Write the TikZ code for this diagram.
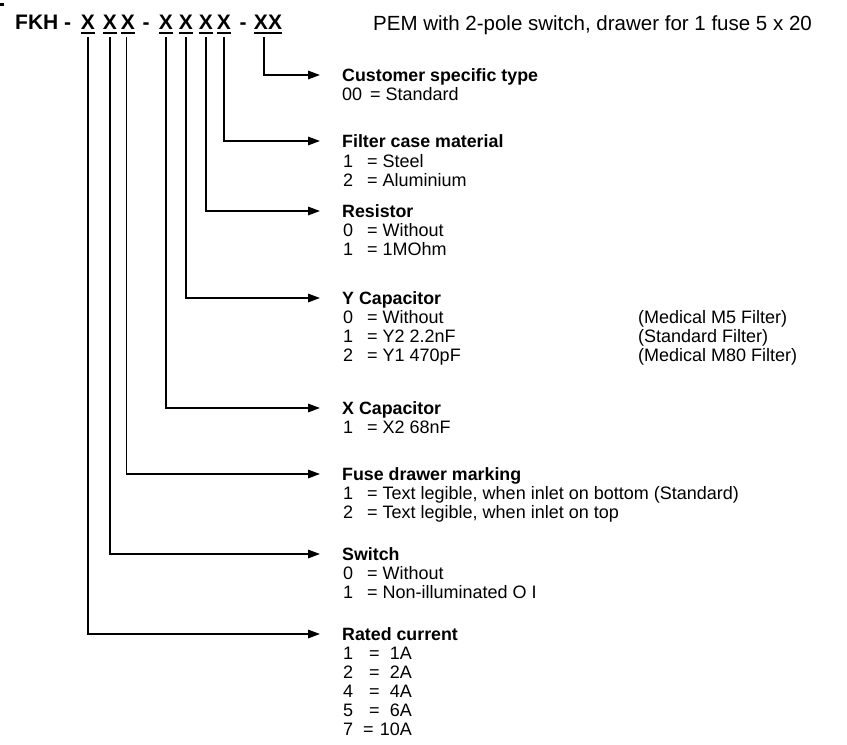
\documentclass[tikz,border=0pt]{standalone}
\usepackage{fontspec}
\setmainfont{Liberation Sans}
\usetikzlibrary{arrows.meta}
\begin{document}
\begin{tikzpicture}[x=1pt,y=-1pt,
 conn/.style={line width=1.5pt, -{Triangle[length=12pt,width=8.5pt]}},
 hx/.style={font=\fontsize{21}{21}\selectfont\bfseries, inner sep=0pt, anchor=base},
 hl/.style={font=\fontsize{21}{21}\selectfont\bfseries, inner sep=0pt, anchor=base west},
 ttl/.style={font=\fontsize{20.5}{21}\selectfont, inner sep=0pt, anchor=base west},
 hd/.style={font=\fontsize{17.8}{18}\selectfont\bfseries, inner sep=0pt, anchor=base west},
 tx/.style={font=\fontsize{18}{18}\selectfont, inner sep=0pt, anchor=base west},
 tr/.style={font=\fontsize{18}{18}\selectfont, inner sep=0pt, anchor=base east},
 ul/.style={line width=2pt}]
\useasboundingbox (0,0) rectangle (847,745);
\fill (0,3) rectangle (4,6);
% header
\node[hl] (fkh) at (15,29) {FKH -};
\node[hx] (x1) at (88,29) {X};
\node[hx] (x2) at (110,29) {X};
\node[hx] (x3) at (128,29) {X};
\node[hx] (d1) at (146,29) {-};
\node[hx] (x4) at (166,29) {X};
\node[hx] (x5) at (186,29) {X};
\node[hx] (x6) at (206,29) {X};
\node[hx] (x7) at (224,29) {X};
\node[hx] (d2) at (243,29) {-};
\node[hx] (xx) at (268,29) {XX};
\foreach \n in {x1,x2,x3,x4,x5,x6,x7,xx}
  \draw[ul] ([yshift=-4pt]\n.base west) -- ([yshift=-4pt]\n.base east);
\node[ttl] (title) at (373,30) {PEM with 2-pole switch, drawer for 1 fuse 5 x 20};
% arrow end points
\coordinate (t8) at (320,75);
\coordinate (t7) at (320,141);
\coordinate (t6) at (320,211);
\coordinate (t5) at (320,298);
\coordinate (t4) at (320,408);
\coordinate (t3) at (320,474);
\coordinate (t2) at (320,554);
\coordinate (t1) at (320,634);
\draw[conn, shorten <=8pt] ([xshift=-4pt]xx.south) |- (t8);
\draw[conn, shorten <=8pt] (x7.south) |- (t7);
\draw[conn, shorten <=8pt] (x6.south) |- (t6);
\draw[conn, shorten <=8pt] (x5.south) |- (t5);
\draw[conn, shorten <=8pt] (x4.south) |- (t4);
\draw[conn, shorten <=8pt] ([xshift=-1.5pt]x3.south) |- (t3);
\draw[conn, shorten <=8pt] (x2.south) |- (t2);
\draw[conn, shorten <=8pt] (x1.south) |- (t1);
% Customer specific type
\node[hd] (h8) at (342,81) {Customer specific type};
\node[tx] (n8a) at (342,100) {00};
\node[tx] (v8a) at (370,100) {= Standard};
% Filter case material
\node[hd] (h7) at (342,147) {Filter case material};
\node[tx] (n7a) at (343,167) {1};
\node[tx] (v7a) at (367,167) {= Steel};
\node[tx] (n7b) at (343,186) {2};
\node[tx] (v7b) at (367,186) {= Aluminium};
% Resistor
\node[hd] (h6) at (342,217) {Resistor};
\node[tx] (n6a) at (343,236) {0};
\node[tx] (v6a) at (367,236) {= Without};
\node[tx] (n6b) at (343,255) {1};
\node[tx] (v6b) at (367,255) {= 1MOhm};
% Y Capacitor
\node[hd] (h5) at (342,304) {Y Capacitor};
\node[tx] (n5a) at (343,323) {0};
\node[tx] (v5a) at (367,323) {= Without};
\node[tx] (r5a) at (638,323) {(Medical M5 Filter)};
\node[tx] (n5b) at (343,342) {1};
\node[tx] (v5b) at (367,342) {= Y2 2.2nF};
\node[tx] (r5b) at (638,342) {(Standard Filter)};
\node[tx] (n5c) at (343,361) {2};
\node[tx] (v5c) at (367,361) {= Y1 470pF};
\node[tx] (r5c) at (638,361) {(Medical M80 Filter)};
% X Capacitor
\node[hd] (h4) at (342,414) {X Capacitor};
\node[tx] (n4a) at (343,433) {1};
\node[tx] (v4a) at (367,433) {= X2 68nF};
% Fuse drawer marking
\node[hd] (h3) at (342,480) {Fuse drawer marking};
\node[tx] (n3a) at (343,499) {1};
\node[tx] (v3a) at (367,499) {= Text legible, when inlet on bottom (Standard)};
\node[tx] (n3b) at (343,518) {2};
\node[tx] (v3b) at (367,518) {= Text legible, when inlet on top};
% Switch
\node[hd] (h2) at (342,560) {Switch};
\node[tx] (n2a) at (343,579) {0};
\node[tx] (v2a) at (367,579) {= Without};
\node[tx] (n2b) at (343,598) {1};
\node[tx] (v2b) at (367,598) {= Non-illuminated O I};
% Rated current
\node[hd] (h1) at (342,640) {Rated current};
\node[tx] (n1a) at (343,659) {1};
\node[tx] (e1a) at (369,659) {=};
\node[tr] (v1a) at (412,659) {1A};
\node[tx] (n1b) at (343,678) {2};
\node[tx] (e1b) at (369,678) {=};
\node[tr] (v1b) at (412,678) {2A};
\node[tx] (n1c) at (343,697) {4};
\node[tx] (e1c) at (369,697) {=};
\node[tr] (v1c) at (412,697) {4A};
\node[tx] (n1d) at (343,716) {5};
\node[tx] (e1d) at (369,716) {=};
\node[tr] (v1d) at (412,716) {6A};
\node[tx] (n1e) at (343,735) {7};
\node[tx] (e1e) at (363,735) {=};
\node[tr] (v1e) at (412,735) {10A};
\end{tikzpicture}
\end{document}
